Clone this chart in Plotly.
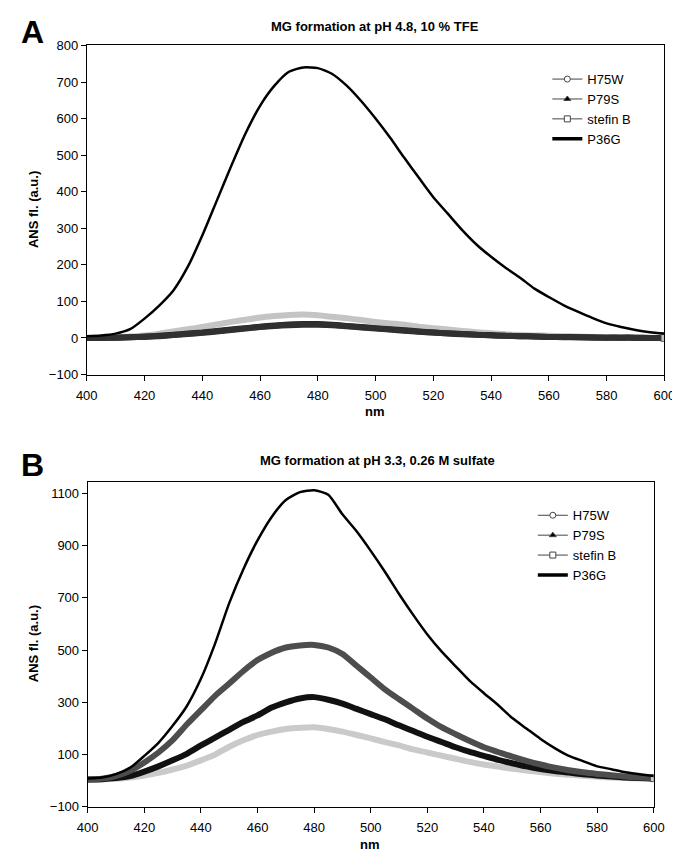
import plotly.graph_objects as go

# ANS fluorescence spectra, every 5 nm
wavelength_nm = [400, 405, 410, 415, 420, 425, 430, 435, 440, 445, 450, 455, 460, 465, 470,
                 475, 480, 485, 490, 495, 500, 505, 510, 515, 520, 525, 530, 535, 540, 545,
                 550, 555, 560, 565, 570, 575, 580, 585, 590, 595, 600]

# panel A - pH 4.8, 10 % TFE
a_h75w = [0, 1, 2, 4, 7, 12, 18, 24, 30, 37, 44, 50, 56, 60, 63, 64, 62, 58, 54, 49, 44,
          40, 36, 31, 27, 23, 19, 16, 13, 10, 8, 7, 6, 5, 4, 3, 3, 2, 2, 1, 1]
a_p79s = [0, 0, 1, 2, 4, 6, 9, 12, 15, 19, 23, 27, 31, 34, 37, 38, 38, 36, 33, 30, 27,
          24, 21, 18, 15, 13, 11, 9, 8, 6, 5, 4, 3, 3, 2, 2, 1, 1, 1, 0, 0]
a_stefin_b = [0, 0, 1, 2, 3, 5, 8, 11, 14, 18, 22, 26, 30, 33, 35, 36, 36, 35, 32, 29, 26,
              23, 20, 17, 15, 12, 10, 9, 7, 6, 5, 4, 3, 2, 2, 1, 1, 1, 0, 0, 0]
a_p36g = [5, 7, 12, 24, 53, 88, 130, 195, 280, 375, 470, 560, 635, 690, 728, 740, 738, 722,
          690, 648, 600, 548, 492, 438, 385, 340, 295, 255, 222, 192, 165, 135, 112, 90, 72,
          55, 40, 30, 22, 16, 12]

# panel B - pH 3.3, 0.26 M sulfate
b_h75w = [5, 5, 7, 12, 20, 30, 43, 58, 78, 100, 130, 155, 175, 188, 198, 203, 205, 198, 188,
          175, 162, 148, 135, 120, 108, 96, 84, 72, 62, 54, 46, 39, 33, 27, 23, 19, 15, 12,
          10, 8, 7]
b_p79s = [5, 6, 10, 18, 35, 55, 78, 103, 135, 165, 195, 225, 250, 280, 300, 315, 320, 310,
          295, 275, 255, 235, 212, 190, 168, 148, 128, 110, 95, 80, 67, 55, 45, 37, 31, 25,
          20, 16, 12, 10, 8]
b_stefin_b = [5, 8, 18, 38, 70, 108, 155, 215, 270, 325, 372, 420, 462, 490, 510, 518, 520,
              510, 485, 440, 395, 350, 312, 275, 238, 205, 178, 152, 128, 110, 92, 76, 62, 50,
              40, 32, 26, 21, 16, 12, 10]
b_p36g = [8, 12, 25, 50, 95, 145, 210, 285, 390, 525, 680, 810, 920, 1010, 1075, 1105, 1112,
          1095, 1020, 955, 880, 800, 715, 635, 560, 495, 438, 382, 335, 290, 240, 200, 160,
          125, 95, 75, 55, 44, 32, 25, 18]

series_names = ["H75W", "P79S", "stefin B", "P36G"]
a_ticks = [-100, 0, 100, 200, 300, 400, 500, 600, 700, 800]
b_ticks = [-100, 100, 300, 500, 700, 900, 1100]

FONT = "Liberation Sans, Arial, sans-serif"
W, H = 680, 853


def px(x):
    return x / W


def py(y):
    return 1 - y / H


def add_panel(fig, xa, ya, legend, data, colors):
    h75w, p79s, stefin, p36g = data
    n = len(wavelength_nm)
    # data bands (dense markers in the original look like thick lines)
    fig.add_trace(go.Scatter(x=wavelength_nm, y=h75w, mode="lines", xaxis=xa, yaxis=ya,
                             line=dict(color=colors[0], width=6, shape="spline", smoothing=0.6),
                             showlegend=False))
    fig.add_trace(go.Scatter(x=wavelength_nm, y=p79s, mode="lines", xaxis=xa, yaxis=ya,
                             line=dict(color=colors[1], width=6, shape="spline", smoothing=0.6),
                             showlegend=False))
    fig.add_trace(go.Scatter(x=wavelength_nm, y=stefin, mode="lines+markers", xaxis=xa, yaxis=ya,
                             line=dict(color=colors[2], width=6, shape="spline", smoothing=0.6),
                             marker=dict(symbol="square", size=[0] * (n - 1) + [7], color="white",
                                         line=dict(color="#333333", width=1)),
                             showlegend=False))
    fig.add_trace(go.Scatter(x=wavelength_nm, y=p36g, mode="lines", xaxis=xa, yaxis=ya,
                             line=dict(color="black", width=2.5, shape="spline", smoothing=0.6),
                             showlegend=False))

    # legend entries drawn like the original key
    keys = [
        dict(symbol="circle", color="white"),
        dict(symbol="triangle-up", color="black"),
        dict(symbol="square", color="white"),
    ]
    for name, k in zip(series_names[:3], keys):
        fig.add_trace(go.Scatter(x=[None], y=[None], mode="lines+markers", name=name,
                                 xaxis=xa, yaxis=ya, legend=legend,
                                 line=dict(color="#444444", width=1),
                                 marker=dict(symbol=k["symbol"], size=6, color=k["color"],
                                             line=dict(color="#444444", width=1))))
    fig.add_trace(go.Scatter(x=[None], y=[None], mode="lines", name=series_names[3],
                             xaxis=xa, yaxis=ya, legend=legend,
                             line=dict(color="black", width=3.5)))


fig = go.Figure()
add_panel(fig, "x", "y", "legend", (a_h75w, a_p79s, a_stefin_b, a_p36g),
          ["#c4c4c4", "#262626", "#303030"])
add_panel(fig, "x2", "y2", "legend2", (b_h75w, b_p79s, b_stefin_b, b_p36g),
          ["#cacaca", "#111111", "#4d4d4d"])

axis_common = dict(showline=True, mirror=True, linecolor="black", linewidth=1,
                   showgrid=False, zeroline=False, ticks="outside", ticklen=5,
                   tickcolor="black", tickfont=dict(family=FONT, size=13, color="black"))

fig.update_layout(
    width=W, height=H,
    margin=dict(l=0, r=0, t=0, b=0),
    paper_bgcolor="white", plot_bgcolor="white",
    font=dict(family=FONT, size=13, color="black"),
    xaxis=dict(domain=[px(70), px(667)], anchor="y", range=[400, 600], dtick=20,
               ticklabelstandoff=4, **axis_common),
    yaxis=dict(domain=[py(366), py(31)], anchor="x", range=[-100, 800], tickvals=a_ticks,
               **axis_common),
    xaxis2=dict(domain=[px(71), px(656)], anchor="y2", range=[400, 600], dtick=20,
                ticklabelstandoff=4, **axis_common),
    yaxis2=dict(domain=[py(806), py(475)], anchor="x2", range=[-100, 1145], tickvals=b_ticks,
                **axis_common),
    legend=dict(x=px(546), y=py(50), xanchor="left", yanchor="top", bgcolor="rgba(0,0,0,0)",
                font=dict(family=FONT, size=13, color="black"), tracegroupgap=0),
    legend2=dict(x=px(531), y=py(494), xanchor="left", yanchor="top", bgcolor="rgba(0,0,0,0)",
                 font=dict(family=FONT, size=13, color="black"), tracegroupgap=0),
)

# panel letters, titles and axis titles
notes = [
    ("A", 0, 17, 32, 0),
    ("B", 0, 458, 32, 0),
    ("MG formation at pH 4.8, 10 % TFE", 368, 12, 13, 0),
    ("MG formation at pH 3.3, 0.26 M sulfate", 370, 453, 13, 0),
    ("ANS fl. (a.u.)", 15, 198, 13, -90),
    ("ANS fl. (a.u.)", 15, 640, 13, -90),
    ("nm", 368, 404, 13, 0),
    ("nm", 363, 844, 13, 0),
]
for text, x, y, size, angle in notes:
    fig.add_annotation(text="<b>%s</b>" % text, x=px(x), y=py(y), xref="paper", yref="paper",
                       xanchor="left" if size > 20 else "center", yanchor="middle",
                       showarrow=False, textangle=angle,
                       font=dict(family=FONT, size=size, color="black"))

fig.write_html("out.html")
